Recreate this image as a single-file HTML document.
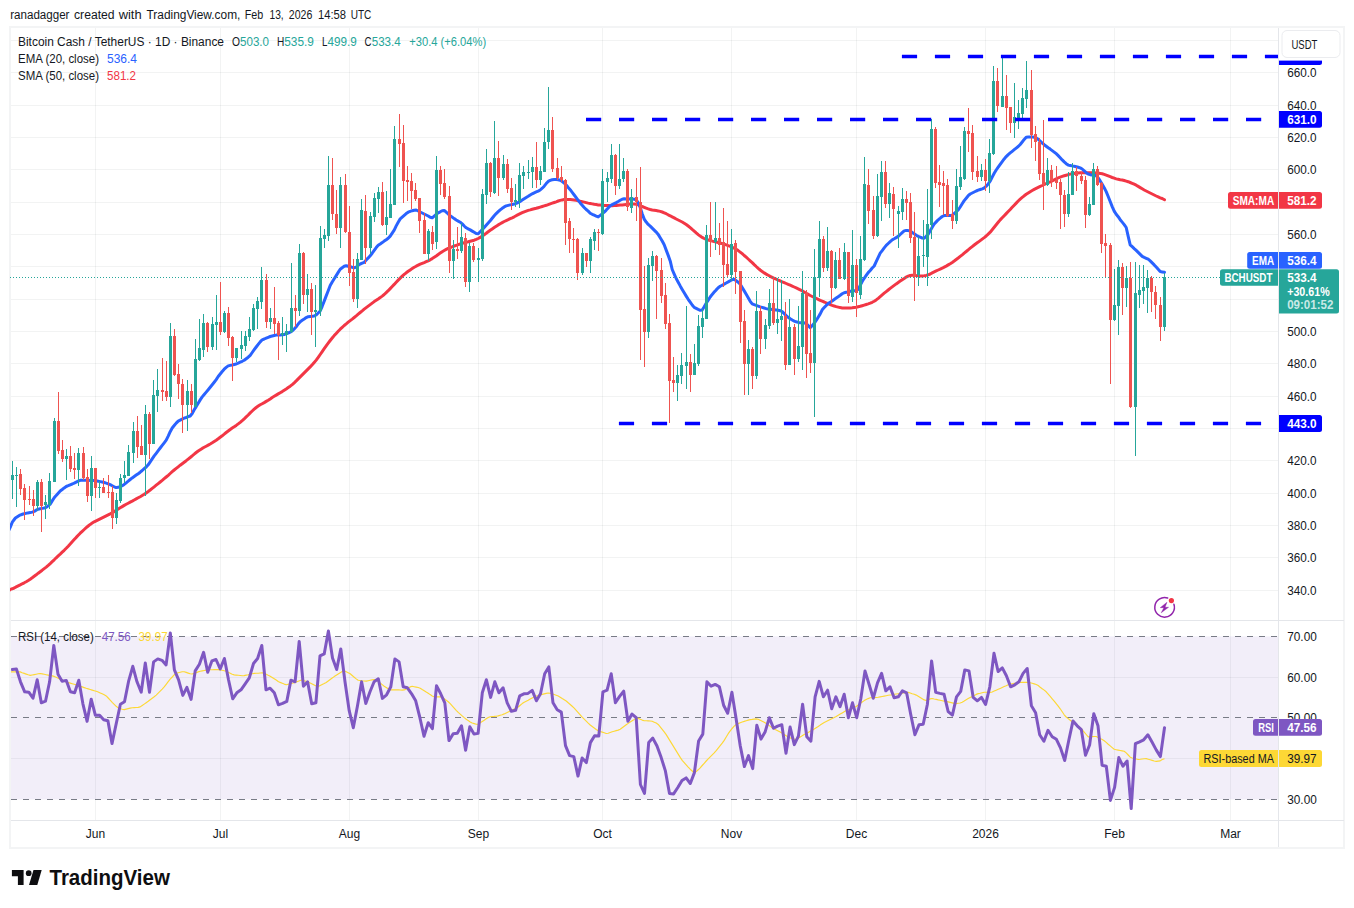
<!DOCTYPE html>
<html lang="en"><head><meta charset="utf-8"><title>BCHUSDT chart</title>
<style>html,body{margin:0;padding:0;background:#fff}body{width:1354px;height:908px;overflow:hidden}svg{display:block}text{font-family:"Liberation Sans", sans-serif;}</style></head><body>
<svg width="1354" height="908" viewBox="0 0 1354 908">
<rect width="1354" height="908" fill="#fff"/>
<text y="18.8" font-size="12.5" fill="#131722"><tspan x="10.2" textLength="59.3" lengthAdjust="spacingAndGlyphs">ranadagger</tspan> <tspan x="74.0" textLength="40.6" lengthAdjust="spacingAndGlyphs">created</tspan> <tspan x="118.7" textLength="22.9" lengthAdjust="spacingAndGlyphs">with</tspan> <tspan x="146.5" textLength="93.9" lengthAdjust="spacingAndGlyphs">TradingView.com,</tspan> <tspan x="244.8" textLength="18.5" lengthAdjust="spacingAndGlyphs">Feb</tspan> <tspan x="269.5" textLength="14.2" lengthAdjust="spacingAndGlyphs">13,</tspan> <tspan x="288.8" textLength="23.5" lengthAdjust="spacingAndGlyphs">2026</tspan> <tspan x="317.9" textLength="28.1" lengthAdjust="spacingAndGlyphs">14:58</tspan> <tspan x="350.7" textLength="20.7" lengthAdjust="spacingAndGlyphs">UTC</tspan></text>
<rect x="10" y="27" width="1334" height="821" fill="#fff" stroke="#f3f4f5" stroke-width="2"/>
<defs><clipPath id="cm"><rect x="10" y="28" width="1268" height="592"/></clipPath><clipPath id="cr"><rect x="11" y="621" width="1267" height="199"/></clipPath></defs>
<path d="M95.5 28V820M220.5 28V820M349.5 28V820M478.5 28V820M602.5 28V820M731.5 28V820M856.5 28V820M985.5 28V820M1114.5 28V820M1230.5 28V820" stroke="rgba(42,46,57,0.06)" stroke-width="1" fill="none"/>
<path d="M11 590.5H1278M11 557.5H1278M11 525.5H1278M11 493.5H1278M11 460.5H1278M11 428.5H1278M11 396.5H1278M11 363.5H1278M11 331.5H1278M11 299.5H1278M11 266.5H1278M11 234.5H1278M11 202.5H1278M11 169.5H1278M11 137.5H1278M11 105.5H1278M11 72.5H1278M11 40.5H1278M11 677.5H1278M11 758.5H1278" stroke="rgba(42,46,57,0.06)" stroke-width="1" fill="none"/>
<rect x="11" y="636.4" width="1267" height="163.0" fill="#7e57c2" fill-opacity="0.1"/>
<path d="M11 636.5H1278" stroke="#787b86" stroke-width="1" stroke-dasharray="6 6" fill="none"/>
<path d="M11 717.5H1278" stroke="#787b86" stroke-width="1" stroke-dasharray="6 6" fill="none"/>
<path d="M11 799.5H1278" stroke="#787b86" stroke-width="1" stroke-dasharray="6 6" fill="none"/>
<path d="M11 620.5H1344M11 820.5H1344M1278.5 28V847" stroke="#e4e6ea" stroke-width="1" fill="none"/>
<g clip-path="url(#cm)">
<path d="M8.0 591.6L10.2 589.4L12.2 588.8L14.2 588.0L16.2 586.9L18.2 585.9L20.2 584.9L22.2 583.8L24.2 582.8L26.2 581.7L28.2 580.5L30.2 579.2L32.2 577.8L34.2 576.3L36.2 574.8L38.2 573.2L40.2 571.7L42.2 570.2L44.2 568.6L46.2 567.1L48.2 565.4L50.2 563.6L52.2 561.7L54.2 559.8L56.2 557.8L58.2 555.9L60.2 554.1L62.2 552.2L64.2 550.3L66.2 548.3L68.2 546.2L70.2 544.0L72.2 541.8L74.2 539.6L76.2 537.4L78.2 535.3L80.2 533.2L82.2 531.3L84.2 529.5L86.2 527.7L88.2 526.0L90.2 524.4L92.2 523.1L94.2 521.8L96.2 520.8L98.2 519.8L100.2 518.8L102.2 517.8L104.2 516.8L106.2 515.8L108.2 514.8L110.2 513.8L112.2 512.7L114.2 511.6L116.2 510.4L118.2 509.1L120.2 507.8L122.2 506.6L124.2 505.4L126.2 504.3L128.2 503.2L130.2 502.1L132.2 501.1L134.2 500.0L136.2 498.9L138.2 497.8L140.2 496.7L142.2 495.5L144.2 494.3L146.2 492.9L148.2 491.5L150.2 490.0L152.2 488.4L154.2 486.8L156.2 485.2L158.2 483.6L160.2 482.0L162.2 480.4L164.2 478.7L166.2 477.0L168.2 475.3L170.2 473.5L172.2 471.7L174.2 470.0L176.2 468.4L178.2 466.8L180.2 465.2L182.2 463.7L184.2 462.2L186.2 460.7L188.2 459.1L190.2 457.5L192.2 455.8L194.2 454.2L196.2 452.5L198.2 451.0L200.2 449.7L202.2 448.4L204.2 447.3L206.2 446.2L208.2 445.1L210.2 444.0L212.2 442.8L214.2 441.5L216.2 440.2L218.2 438.8L220.2 437.3L222.2 435.8L224.2 434.2L226.2 432.5L228.2 431.0L230.2 429.5L232.2 428.1L234.2 426.8L236.2 425.4L238.2 423.9L240.2 422.3L242.2 420.6L244.2 418.8L246.2 416.9L248.2 415.0L250.2 412.9L252.2 411.0L254.2 409.2L256.2 407.5L258.2 406.1L260.2 404.8L262.2 403.7L264.2 402.6L266.2 401.4L268.2 400.2L270.2 398.9L272.2 397.5L274.2 396.3L276.2 395.1L278.2 393.9L280.2 392.7L282.2 391.6L284.2 390.3L286.2 389.0L288.2 387.6L290.2 386.2L292.2 384.6L294.2 382.8L296.2 380.9L298.2 378.9L300.2 376.9L302.2 374.9L304.2 372.9L306.2 370.9L308.2 368.9L310.2 366.9L312.2 364.8L314.2 362.5L316.2 360.1L318.2 357.4L320.2 354.5L322.2 351.6L324.2 348.7L326.2 345.9L328.2 343.2L330.2 340.5L332.2 338.0L334.2 335.6L336.2 333.4L338.2 331.2L340.2 329.2L342.2 327.3L344.2 325.5L346.2 323.9L348.2 322.2L350.2 320.6L352.2 319.1L354.2 317.5L356.2 315.9L358.2 314.2L360.2 312.5L362.2 310.9L364.2 309.2L366.2 307.6L368.2 306.1L370.2 304.6L372.2 303.1L374.2 301.6L376.2 300.3L378.2 299.0L380.2 297.6L382.2 296.1L384.2 294.5L386.2 292.6L388.2 290.7L390.2 288.6L392.2 286.5L394.2 284.4L396.2 282.2L398.2 280.1L400.2 278.1L402.2 276.2L404.2 274.4L406.2 272.8L408.2 271.3L410.2 269.9L412.2 268.6L414.2 267.3L416.2 266.2L418.2 265.2L420.2 264.2L422.2 263.4L424.2 262.6L426.2 261.7L428.2 260.8L430.2 259.8L432.2 258.6L434.2 257.3L436.2 256.0L438.2 254.5L440.2 253.1L442.2 251.7L444.2 250.5L446.2 249.4L448.2 248.4L450.2 247.6L452.2 246.8L454.2 246.0L456.2 245.3L458.2 244.6L460.2 244.0L462.2 243.4L464.2 242.8L466.2 242.3L468.2 241.8L470.2 241.2L472.2 240.7L474.2 240.2L476.2 239.4L478.2 238.5L480.2 237.4L482.2 236.1L484.2 234.7L486.2 233.3L488.2 231.8L490.2 230.3L492.2 228.9L494.2 227.5L496.2 226.2L498.2 224.9L500.2 223.7L502.2 222.6L504.2 221.5L506.2 220.6L508.2 219.7L510.2 218.7L512.2 217.8L514.2 216.8L516.2 215.7L518.2 214.7L520.2 213.7L522.2 212.7L524.2 211.8L526.2 211.1L528.2 210.4L530.2 209.9L532.2 209.3L534.2 208.8L536.2 208.3L538.2 207.7L540.2 207.1L542.2 206.5L544.2 205.9L546.2 205.3L548.2 204.6L550.2 203.9L552.2 203.2L554.2 202.5L556.2 201.8L558.2 201.0L560.2 200.4L562.2 199.9L564.2 199.6L566.2 199.5L568.2 199.4L570.2 199.5L572.2 199.7L574.2 200.0L576.2 200.4L578.2 200.8L580.2 201.3L582.2 201.7L584.2 202.1L586.2 202.6L588.2 203.1L590.2 203.5L592.2 203.9L594.2 204.3L596.2 204.6L598.2 204.9L600.2 205.1L602.2 205.3L604.2 205.4L606.2 205.6L608.2 205.6L610.2 205.7L612.2 205.7L614.2 205.6L616.2 205.5L618.2 205.3L620.2 205.1L622.2 204.9L624.2 204.7L626.2 204.5L628.2 204.3L630.2 204.1L632.2 203.9L634.2 204.0L636.2 204.3L638.2 204.8L640.2 205.6L642.2 206.5L644.2 207.3L646.2 208.2L648.2 208.9L650.2 209.5L652.2 210.0L654.2 210.3L656.2 210.6L658.2 210.9L660.2 211.4L662.2 212.0L664.2 212.8L666.2 213.7L668.2 214.8L670.2 215.8L672.2 216.9L674.2 217.9L676.2 219.0L678.2 220.0L680.2 221.0L682.2 222.0L684.2 223.2L686.2 224.5L688.2 226.0L690.2 227.6L692.2 229.4L694.2 231.1L696.2 232.9L698.2 234.6L700.2 236.1L702.2 237.4L704.2 238.5L706.2 239.4L708.2 240.0L710.2 240.6L712.2 241.1L714.2 241.6L716.2 242.0L718.2 242.5L720.2 243.0L722.2 243.6L724.2 244.2L726.2 244.9L728.2 245.7L730.2 246.4L732.2 247.3L734.2 248.2L736.2 249.3L738.2 250.6L740.2 252.1L742.2 253.7L744.2 255.5L746.2 257.2L748.2 259.0L750.2 260.8L752.2 262.6L754.2 264.6L756.2 266.5L758.2 268.3L760.2 270.0L762.2 271.6L764.2 272.9L766.2 274.1L768.2 275.2L770.2 276.3L772.2 277.3L774.2 278.3L776.2 279.2L778.2 280.1L780.2 280.9L782.2 281.8L784.2 282.6L786.2 283.5L788.2 284.4L790.2 285.2L792.2 286.1L794.2 287.0L796.2 287.9L798.2 288.8L800.2 289.8L802.2 290.9L804.2 292.0L806.2 293.2L808.2 294.4L810.2 295.5L812.2 296.5L814.2 297.5L816.2 298.4L818.2 299.3L820.2 300.3L822.2 301.2L824.2 302.0L826.2 302.9L828.2 303.7L830.2 304.5L832.2 305.3L834.2 306.0L836.2 306.6L838.2 307.1L840.2 307.6L842.2 307.9L844.2 308.1L846.2 308.1L848.2 308.1L850.2 308.0L852.2 307.8L854.2 307.5L856.2 307.2L858.2 306.7L860.2 306.3L862.2 305.7L864.2 305.1L866.2 304.5L868.2 303.9L870.2 303.2L872.2 302.3L874.2 301.2L876.2 299.9L878.2 298.3L880.2 296.6L882.2 294.9L884.2 293.2L886.2 291.6L888.2 290.0L890.2 288.4L892.2 286.9L894.2 285.4L896.2 283.9L898.2 282.5L900.2 281.1L902.2 279.7L904.2 278.4L906.2 277.1L908.2 276.1L910.2 275.5L912.2 275.3L914.2 275.3L916.2 275.6L918.2 275.8L920.2 275.9L922.2 276.0L924.2 275.8L926.2 275.4L928.2 274.8L930.2 274.0L932.2 272.9L934.2 271.9L936.2 270.9L938.2 270.0L940.2 269.1L942.2 268.2L944.2 267.1L946.2 266.1L948.2 264.9L950.2 263.7L952.2 262.4L954.2 261.0L956.2 259.5L958.2 258.0L960.2 256.4L962.2 254.8L964.2 253.1L966.2 251.5L968.2 249.8L970.2 248.2L972.2 246.6L974.2 245.0L976.2 243.5L978.2 242.1L980.2 240.6L982.2 239.1L984.2 237.6L986.2 236.0L988.2 234.1L990.2 232.2L992.2 229.8L994.2 227.3L996.2 224.8L998.2 222.3L1000.2 219.9L1002.2 217.8L1004.2 215.7L1006.2 213.6L1008.2 211.5L1010.2 209.5L1012.2 207.3L1014.2 205.2L1016.2 203.1L1018.2 201.0L1020.2 199.1L1022.2 197.4L1024.2 195.8L1026.2 194.3L1028.2 193.0L1030.2 191.7L1032.2 190.5L1034.2 189.4L1036.2 188.4L1038.2 187.4L1040.2 186.4L1042.2 185.5L1044.2 184.5L1046.2 183.6L1048.2 182.7L1050.2 181.8L1052.2 180.8L1054.2 179.8L1056.2 178.8L1058.2 177.9L1060.2 177.1L1062.2 176.4L1064.2 175.8L1066.2 175.2L1068.2 174.6L1070.2 174.1L1072.2 173.7L1074.2 173.4L1076.2 173.1L1078.2 172.9L1080.2 172.8L1082.2 172.7L1084.2 172.7L1086.2 172.7L1088.2 172.7L1090.2 172.7L1092.2 172.8L1094.2 172.8L1096.2 172.9L1098.2 173.1L1100.2 173.4L1102.2 173.8L1104.2 174.4L1106.2 175.1L1108.2 175.9L1110.2 176.7L1112.2 177.5L1114.2 178.2L1116.2 178.9L1118.2 179.3L1120.2 179.7L1122.2 180.0L1124.2 180.5L1126.2 181.1L1128.2 181.7L1130.2 182.5L1132.2 183.3L1134.2 184.2L1136.2 185.2L1138.2 186.4L1140.2 187.6L1142.2 188.8L1144.2 190.0L1146.2 191.0L1148.2 192.0L1150.2 193.0L1152.2 194.0L1154.2 195.0L1156.2 196.0L1158.2 196.9L1160.2 197.8L1162.2 198.5L1164.5 199.8" stroke="#f23645" stroke-width="3" fill="none" stroke-linejoin="round" stroke-linecap="round"/>
<path d="M8.0 532.0L10.3 527.1L12.3 522.2L15.4 518.0L19.3 515.4L23.1 514.0L27.8 512.9L30.2 512.6L32.2 512.1L34.2 511.4L36.2 510.2L38.2 509.2L40.2 508.8L42.2 508.4L44.2 508.0L46.2 507.4L48.2 505.9L50.2 504.1L52.2 500.9L54.2 497.8L56.2 495.4L58.2 493.2L60.2 491.0L62.2 489.5L64.2 487.9L66.2 486.5L68.2 485.7L70.2 484.8L72.2 484.0L74.2 483.1L76.2 482.1L78.2 481.1L80.2 480.3L82.2 480.3L84.2 480.3L86.2 480.3L88.2 480.3L90.2 480.4L92.2 480.5L94.2 480.6L96.2 480.8L98.2 481.2L100.2 481.6L102.2 482.0L104.2 482.5L106.2 483.1L108.2 483.8L110.2 484.6L112.2 485.7L114.2 486.8L116.2 487.6L118.2 487.2L120.2 486.8L122.2 485.7L124.2 484.4L126.2 482.8L128.2 481.2L130.2 479.5L132.2 477.9L134.2 476.5L136.2 475.1L138.2 473.7L140.2 472.2L142.2 470.5L144.2 468.7L146.2 467.0L148.2 464.8L150.2 461.8L152.2 458.8L154.2 455.9L156.2 453.3L158.2 450.6L160.2 448.0L162.2 445.4L164.2 442.8L166.2 440.2L168.2 436.1L170.2 431.7L172.2 428.0L174.2 425.5L176.2 423.1L178.2 421.1L180.2 420.1L182.2 419.1L184.2 418.2L186.2 417.5L188.2 416.7L190.2 416.0L192.2 413.5L194.2 409.8L196.2 406.6L198.2 403.2L200.2 399.9L202.2 396.9L204.2 394.5L206.2 392.1L208.2 389.7L210.2 387.2L212.2 384.7L214.2 382.2L216.2 379.6L218.2 376.5L220.2 374.0L222.2 371.5L224.2 369.2L226.2 367.4L228.2 365.9L230.2 365.4L232.2 365.0L234.2 364.5L236.2 364.0L238.2 363.1L240.2 362.2L242.2 361.3L244.2 360.2L246.2 358.7L248.2 357.2L250.2 355.3L252.2 352.5L254.2 349.7L256.2 347.0L258.2 344.4L260.2 341.9L262.2 339.8L264.2 339.0L266.2 338.1L268.2 337.3L270.2 336.5L272.2 336.0L274.2 335.5L276.2 335.1L278.2 335.0L280.2 334.9L282.2 334.8L284.2 334.5L286.2 333.7L288.2 333.0L290.2 332.2L292.2 331.0L294.2 329.0L296.2 326.8L298.2 324.0L300.2 321.7L302.2 320.3L304.2 319.0L306.2 317.6L308.2 316.7L310.2 316.4L312.2 316.2L314.2 315.9L316.2 315.0L318.2 313.0L320.2 311.0L322.2 306.3L324.2 301.1L326.2 295.9L328.2 290.7L330.2 285.5L332.2 282.0L334.2 278.8L336.2 275.6L338.2 272.4L340.2 269.2L342.2 267.7L344.2 266.3L346.2 265.7L348.2 266.3L350.2 266.8L352.2 267.3L354.2 267.7L356.2 267.1L358.2 265.3L360.2 264.0L362.2 263.2L364.2 262.4L366.2 260.0L368.2 257.9L370.2 255.7L372.2 253.2L374.2 250.4L376.2 247.6L378.2 245.3L380.2 244.0L382.2 242.6L384.2 241.1L386.2 239.7L388.2 238.2L390.2 236.1L392.2 233.1L394.2 230.1L396.2 225.9L398.2 222.2L400.2 218.9L402.2 217.1L404.2 215.3L406.2 213.6L408.2 212.2L410.2 211.4L412.2 210.7L414.2 210.2L416.2 210.0L418.2 211.0L420.2 212.0L422.2 213.0L424.2 214.0L426.2 215.0L428.2 216.0L430.2 217.3L432.2 217.8L434.2 216.1L436.2 214.4L438.2 212.8L440.2 211.8L442.2 210.7L444.2 210.4L446.2 212.2L448.2 214.0L450.2 215.6L452.2 217.1L454.2 218.6L456.2 220.0L458.2 221.1L460.2 222.2L462.2 223.8L464.2 226.0L466.2 227.8L468.2 228.9L470.2 229.9L472.2 231.1L474.2 232.3L476.2 233.5L478.2 233.8L480.2 231.7L482.2 229.6L484.2 227.5L486.2 225.2L488.2 223.0L490.2 220.7L492.2 218.2L494.2 215.8L496.2 213.6L498.2 211.7L500.2 209.9L502.2 208.3L504.2 206.9L506.2 205.9L508.2 205.4L510.2 204.9L512.2 204.5L514.2 204.0L516.2 203.3L518.2 202.5L520.2 201.4L522.2 200.1L524.2 198.8L526.2 197.5L528.2 196.3L530.2 195.0L532.2 193.8L534.2 192.8L536.2 191.9L538.2 191.1L540.2 190.0L542.2 188.2L544.2 186.2L546.2 183.6L548.2 181.4L550.2 180.4L552.2 179.8L554.2 179.5L556.2 179.5L558.2 179.7L560.2 180.3L562.2 181.5L564.2 183.1L566.2 185.0L568.2 187.5L570.2 189.7L572.2 192.3L574.2 195.0L576.2 197.7L578.2 200.3L580.2 202.9L582.2 205.2L584.2 207.5L586.2 209.5L588.2 211.1L590.2 213.2L592.2 214.3L594.2 215.2L596.2 216.1L598.2 216.9L600.2 215.4L602.2 213.8L604.2 212.2L606.2 210.1L608.2 207.9L610.2 205.8L612.2 204.6L614.2 203.6L616.2 202.6L618.2 201.5L620.2 200.3L622.2 199.2L624.2 198.7L626.2 198.9L628.2 199.0L630.2 199.1L632.2 199.1L634.2 199.2L636.2 199.8L638.2 202.6L640.2 207.5L642.2 213.8L644.2 219.1L646.2 222.1L648.2 224.4L650.2 226.1L652.2 228.1L654.2 230.1L656.2 232.1L658.2 234.4L660.2 237.7L662.2 241.0L664.2 244.8L666.2 250.1L668.2 255.4L670.2 260.9L672.2 269.5L674.2 274.1L676.2 278.5L678.2 282.2L680.2 285.9L682.2 289.4L684.2 292.8L686.2 296.1L688.2 299.3L690.2 302.2L692.2 305.0L694.2 307.4L696.2 308.4L698.2 309.4L700.2 310.3L702.2 310.0L704.2 306.8L706.2 303.2L708.2 300.1L710.2 297.0L712.2 294.4L714.2 292.1L716.2 289.9L718.2 287.8L720.2 286.3L722.2 285.2L724.2 284.1L726.2 283.0L728.2 281.9L730.2 280.7L732.2 279.6L734.2 279.2L736.2 280.7L738.2 282.2L740.2 284.2L742.2 287.6L744.2 290.9L746.2 294.3L748.2 297.8L750.2 301.3L752.2 303.9L754.2 304.7L756.2 305.4L758.2 306.2L760.2 306.9L762.2 307.4L764.2 308.0L766.2 308.6L768.2 309.0L770.2 309.2L772.2 309.5L774.2 309.7L776.2 310.0L778.2 310.3L780.2 310.7L782.2 311.6L784.2 313.6L786.2 315.6L788.2 317.3L790.2 318.7L792.2 320.0L794.2 321.1L796.2 321.8L798.2 322.4L800.2 322.8L802.2 322.8L804.2 322.8L806.2 323.6L808.2 325.6L810.2 327.6L812.2 325.7L814.2 323.3L816.2 320.5L818.2 317.2L820.2 313.9L822.2 309.8L824.2 307.6L826.2 305.4L828.2 303.6L830.2 302.2L832.2 300.9L834.2 299.5L836.2 298.1L838.2 296.7L840.2 295.3L842.2 293.8L844.2 292.7L846.2 292.3L848.2 292.0L850.2 291.3L852.2 291.0L854.2 290.7L856.2 290.4L858.2 289.5L860.2 285.3L862.2 281.5L864.2 278.3L866.2 275.4L868.2 272.6L870.2 270.5L872.2 268.0L874.2 266.0L876.2 261.7L878.2 257.3L880.2 253.2L882.2 250.6L884.2 247.9L886.2 245.4L888.2 243.5L890.2 241.6L892.2 239.9L894.2 238.8L896.2 237.6L898.2 236.4L900.2 234.5L902.2 232.7L904.2 230.9L906.2 230.4L908.2 230.6L910.2 231.0L912.2 232.4L914.2 233.8L916.2 235.2L918.2 236.4L920.2 237.2L922.2 238.0L924.2 238.3L926.2 236.3L928.2 234.3L930.2 230.8L932.2 227.2L934.2 224.0L936.2 221.9L938.2 219.8L940.2 218.2L942.2 216.5L944.2 215.6L946.2 215.6L948.2 215.5L950.2 215.5L952.2 215.1L954.2 213.5L956.2 211.8L958.2 210.0L960.2 207.0L962.2 203.7L964.2 200.6L966.2 198.2L968.2 195.7L970.2 194.0L972.2 193.0L974.2 192.0L976.2 191.0L978.2 190.2L980.2 189.5L982.2 188.8L984.2 188.0L986.2 186.2L988.2 183.9L990.2 181.2L992.2 177.2L994.2 173.3L996.2 170.0L998.2 167.1L1000.2 164.3L1002.2 161.6L1004.2 158.9L1006.2 156.6L1008.2 154.6L1010.2 152.9L1012.2 151.3L1014.2 149.7L1016.2 148.1L1018.2 146.5L1020.2 144.5L1022.2 142.0L1024.2 139.4L1026.2 137.2L1028.2 137.0L1030.2 136.9L1032.2 136.9L1034.2 137.3L1036.2 137.9L1038.2 139.3L1040.2 141.1L1042.2 143.0L1044.2 144.7L1046.2 146.2L1048.2 147.7L1050.2 149.1L1052.2 150.6L1054.2 152.1L1056.2 153.7L1058.2 155.6L1060.2 157.7L1062.2 159.9L1064.2 161.9L1066.2 163.7L1068.2 165.1L1070.2 165.5L1072.2 165.9L1074.2 166.2L1076.2 166.7L1078.2 167.3L1080.2 167.9L1082.2 169.0L1084.2 170.8L1086.2 172.7L1088.2 174.0L1090.2 174.7L1092.2 175.1L1094.2 175.2L1096.2 175.7L1098.2 177.9L1100.2 180.9L1102.2 184.3L1104.2 187.7L1106.2 191.6L1108.2 196.5L1110.2 201.5L1112.2 206.6L1114.2 211.1L1116.2 214.3L1118.2 216.7L1120.2 219.7L1122.2 222.1L1124.2 224.6L1126.2 227.5L1128.2 236.3L1130.2 244.8L1132.2 246.7L1134.2 248.6L1136.2 250.4L1138.2 252.4L1140.2 254.4L1142.2 256.4L1144.2 257.4L1146.2 258.3L1148.2 259.2L1150.2 260.9L1152.2 262.9L1154.2 264.9L1156.2 267.1L1158.2 269.3L1160.2 271.6L1162.2 271.9L1164.5 272.3" stroke="#2962ff" stroke-width="3" fill="none" stroke-linejoin="round" stroke-linecap="round"/>
</g>
<g clip-path="url(#cm)" shape-rendering="crispEdges">
<path d="M12 461h1v38h-1zM11 475h3v5h-3zM16 467h1v40h-1zM15 475h3v1h-3zM37 480h1v31h-1zM36 482h3v24h-3zM45 495h1v24h-1zM44 502h3v3h-3zM49 473h1v36h-1zM48 481h3v24h-3zM54 418h1v64h-1zM53 421h3v61h-3zM66 449h1v31h-1zM65 456h3v3h-3zM78 448h1v38h-1zM77 453h3v17h-3zM91 456h1v55h-1zM90 468h3v28h-3zM99 481h1v17h-1zM98 487h3v1h-3zM116 493h1v31h-1zM115 500h3v18h-3zM120 474h1v29h-1zM119 478h3v23h-3zM124 461h1v22h-1zM123 475h3v3h-3zM128 445h1v31h-1zM127 452h3v24h-3zM133 422h1v41h-1zM132 431h3v22h-3zM145 405h1v91h-1zM144 414h3v41h-3zM153 380h1v64h-1zM152 395h3v49h-3zM157 369h1v43h-1zM156 390h3v6h-3zM170 323h1v84h-1zM169 336h3v61h-3zM187 380h1v51h-1zM186 391h3v14h-3zM195 339h1v68h-1zM194 359h3v48h-3zM199 319h1v42h-1zM198 348h3v12h-3zM203 314h1v43h-1zM202 323h3v27h-3zM212 317h1v33h-1zM211 324h3v23h-3zM216 295h1v55h-1zM215 322h3v3h-3zM224 311h1v22h-1zM223 313h3v19h-3zM236 348h1v14h-1zM235 348h3v10h-3zM241 331h1v28h-1zM240 345h3v4h-3zM245 331h1v20h-1zM244 336h3v10h-3zM249 317h1v24h-1zM248 329h3v8h-3zM253 304h1v27h-1zM252 308h3v22h-3zM257 297h1v32h-1zM256 301h3v8h-3zM261 267h1v42h-1zM260 280h3v22h-3zM270 308h1v21h-1zM269 318h3v4h-3zM282 317h1v28h-1zM281 333h3v2h-3zM286 324h1v28h-1zM285 331h3v4h-3zM291 263h1v70h-1zM290 308h3v24h-3zM299 244h1v72h-1zM298 253h3v58h-3zM307 274h1v38h-1zM306 289h3v6h-3zM315 285h1v62h-1zM314 310h3v2h-3zM320 226h1v90h-1zM319 238h3v73h-3zM324 229h1v19h-1zM323 235h3v4h-3zM328 156h1v85h-1zM327 185h3v51h-3zM340 177h1v71h-1zM339 185h3v43h-3zM357 253h1v55h-1zM356 259h3v40h-3zM361 199h1v61h-1zM360 210h3v50h-3zM370 212h1v42h-1zM369 216h3v32h-3zM374 193h1v29h-1zM373 198h3v19h-3zM378 187h1v26h-1zM377 192h3v7h-3zM386 191h1v44h-1zM385 217h3v8h-3zM390 169h1v49h-1zM389 204h3v14h-3zM394 126h1v79h-1zM393 139h3v66h-3zM428 229h1v32h-1zM427 231h3v23h-3zM436 156h1v93h-1zM435 170h3v72h-3zM453 240h1v39h-1zM452 249h3v12h-3zM461 223h1v30h-1zM460 237h3v14h-3zM469 243h1v49h-1zM468 246h3v36h-3zM478 248h1v34h-1zM477 258h3v2h-3zM482 189h1v72h-1zM481 194h3v65h-3zM486 149h1v55h-1zM485 163h3v32h-3zM494 121h1v73h-1zM493 158h3v35h-3zM503 155h1v25h-1zM502 164h3v14h-3zM515 184h1v23h-1zM514 200h3v2h-3zM519 163h1v45h-1zM518 175h3v26h-3zM523 166h1v23h-1zM522 172h3v4h-3zM528 160h1v19h-1zM527 172h3v1h-3zM532 157h1v31h-1zM531 167h3v5h-3zM540 166h1v19h-1zM539 171h3v9h-3zM544 128h1v44h-1zM543 142h3v30h-3zM548 87h1v62h-1zM547 130h3v12h-3zM582 248h1v27h-1zM581 253h3v20h-3zM590 237h1v36h-1zM589 239h3v22h-3zM594 229h1v21h-1zM593 232h3v9h-3zM602 169h1v66h-1zM601 181h3v53h-3zM607 172h1v30h-1zM606 178h3v4h-3zM611 144h1v39h-1zM610 155h3v24h-3zM619 144h1v45h-1zM618 179h3v7h-3zM623 158h1v24h-1zM622 171h3v8h-3zM631 189h1v24h-1zM630 197h3v11h-3zM648 258h1v80h-1zM647 265h3v67h-3zM652 251h1v30h-1zM651 256h3v10h-3zM677 365h1v36h-1zM676 375h3v8h-3zM681 353h1v31h-1zM680 365h3v11h-3zM686 306h1v83h-1zM685 362h3v4h-3zM694 344h1v31h-1zM693 363h3v12h-3zM698 315h1v51h-1zM697 326h3v38h-3zM702 309h1v29h-1zM701 318h3v9h-3zM706 225h1v94h-1zM705 235h3v84h-3zM715 202h1v48h-1zM714 238h3v4h-3zM731 229h1v52h-1zM730 244h3v31h-3zM748 340h1v55h-1zM747 349h3v15h-3zM756 291h1v88h-1zM755 311h3v65h-3zM765 319h1v30h-1zM764 325h3v14h-3zM769 289h1v40h-1zM768 303h3v23h-3zM777 278h1v56h-1zM776 319h3v4h-3zM781 280h1v61h-1zM780 316h3v4h-3zM789 299h1v66h-1zM788 327h3v38h-3zM798 306h1v56h-1zM797 346h3v13h-3zM802 271h1v99h-1zM801 293h3v54h-3zM814 249h1v168h-1zM813 277h3v86h-3zM819 221h1v76h-1zM818 239h3v39h-3zM827 227h1v44h-1zM826 251h3v17h-3zM835 252h1v37h-1zM834 260h3v28h-3zM844 243h1v37h-1zM843 252h3v27h-3zM852 230h1v72h-1zM851 265h3v32h-3zM860 236h1v63h-1zM859 259h3v36h-3zM864 157h1v104h-1zM863 184h3v76h-3zM877 174h1v63h-1zM876 196h3v40h-3zM881 161h1v60h-1zM880 172h3v25h-3zM889 183h1v35h-1zM888 193h3v11h-3zM898 206h1v42h-1zM897 211h3v3h-3zM902 188h1v32h-1zM901 199h3v13h-3zM918 237h1v49h-1zM917 256h3v19h-3zM923 220h1v47h-1zM922 255h3v1h-3zM927 189h1v97h-1zM926 224h3v33h-3zM931 119h1v120h-1zM930 129h3v96h-3zM956 169h1v55h-1zM955 186h3v35h-3zM960 146h1v44h-1zM959 177h3v10h-3zM964 127h1v53h-1zM963 131h3v48h-3zM981 164h1v17h-1zM980 170h3v7h-3zM989 139h1v54h-1zM988 153h3v28h-3zM993 66h1v89h-1zM992 81h3v73h-3zM1002 57h1v50h-1zM1001 96h3v11h-3zM1014 83h1v55h-1zM1013 117h3v6h-3zM1018 100h1v29h-1zM1017 113h3v5h-3zM1022 88h1v30h-1zM1021 98h3v16h-3zM1026 61h1v47h-1zM1025 90h3v9h-3zM1047 158h1v28h-1zM1046 170h3v15h-3zM1068 172h1v45h-1zM1067 194h3v20h-3zM1072 163h1v32h-1zM1071 171h3v24h-3zM1089 197h1v19h-1zM1088 204h3v11h-3zM1093 163h1v42h-1zM1092 169h3v36h-3zM1114 269h1v52h-1zM1113 305h3v15h-3zM1118 260h1v75h-1zM1117 267h3v39h-3zM1126 266h1v41h-1zM1125 278h3v10h-3zM1135 262h1v194h-1zM1134 293h3v114h-3zM1139 265h1v43h-1zM1138 290h3v5h-3zM1143 265h1v39h-1zM1142 287h3v4h-3zM1147 270h1v43h-1zM1146 278h3v10h-3zM1164 273h1v58h-1zM1163 277h3v50h-3z" fill="#26a69a"/>
<path d="M20 469h1v26h-1zM19 474h3v15h-3zM24 484h1v36h-1zM23 488h3v12h-3zM29 486h1v19h-1zM28 499h3v1h-3zM33 490h1v26h-1zM32 499h3v7h-3zM41 479h1v53h-1zM40 482h3v24h-3zM58 392h1v62h-1zM57 421h3v30h-3zM62 440h1v22h-1zM61 450h3v9h-3zM70 446h1v26h-1zM69 456h3v13h-3zM74 453h1v26h-1zM73 468h3v2h-3zM83 447h1v33h-1zM82 453h3v25h-3zM87 469h1v33h-1zM86 477h3v19h-3zM95 468h1v30h-1zM94 468h3v20h-3zM103 478h1v15h-1zM102 487h3v6h-3zM108 475h1v23h-1zM107 492h3v1h-3zM112 486h1v43h-1zM111 492h3v26h-3zM137 416h1v42h-1zM136 431h3v16h-3zM141 425h1v30h-1zM140 446h3v9h-3zM149 412h1v47h-1zM148 414h3v30h-3zM162 358h1v43h-1zM161 390h3v2h-3zM166 361h1v40h-1zM165 391h3v6h-3zM174 329h1v47h-1zM173 336h3v39h-3zM178 364h1v35h-1zM177 374h3v10h-3zM182 379h1v54h-1zM181 384h3v21h-3zM191 384h1v29h-1zM190 391h3v14h-3zM207 322h1v30h-1zM206 323h3v24h-3zM220 282h1v53h-1zM219 322h3v10h-3zM228 307h1v39h-1zM227 313h3v25h-3zM232 336h1v45h-1zM231 337h3v21h-3zM266 274h1v54h-1zM265 280h3v42h-3zM274 287h1v47h-1zM273 318h3v6h-3zM278 321h1v39h-1zM277 323h3v12h-3zM295 295h1v32h-1zM294 308h3v3h-3zM303 252h1v52h-1zM302 253h3v42h-3zM311 283h1v52h-1zM310 289h3v23h-3zM332 158h1v62h-1zM331 185h3v29h-3zM336 190h1v44h-1zM335 214h3v14h-3zM345 174h1v59h-1zM344 185h3v47h-3zM349 206h1v80h-1zM348 232h3v41h-3zM353 259h1v43h-1zM352 272h3v27h-3zM365 195h1v69h-1zM364 211h3v37h-3zM382 182h1v44h-1zM381 192h3v33h-3zM399 114h1v53h-1zM398 139h3v5h-3zM403 125h1v78h-1zM402 143h3v38h-3zM407 166h1v35h-1zM406 180h3v2h-3zM411 173h1v36h-1zM410 181h3v10h-3zM415 183h1v18h-1zM414 190h3v9h-3zM419 198h1v35h-1zM418 198h3v23h-3zM424 213h1v41h-1zM423 220h3v34h-3zM432 226h1v24h-1zM431 232h3v12h-3zM440 166h1v29h-1zM439 170h3v14h-3zM444 169h1v30h-1zM443 183h3v14h-3zM449 186h1v87h-1zM448 196h3v65h-3zM457 227h1v32h-1zM456 249h3v2h-3zM465 233h1v54h-1zM464 238h3v44h-3zM473 243h1v19h-1zM472 246h3v14h-3zM490 162h1v35h-1zM489 163h3v29h-3zM498 141h1v55h-1zM497 158h3v20h-3zM507 159h1v34h-1zM506 164h3v25h-3zM511 178h1v32h-1zM510 188h3v14h-3zM536 142h1v46h-1zM535 167h3v13h-3zM552 117h1v55h-1zM551 130h3v39h-3zM557 158h1v22h-1zM556 168h3v10h-3zM561 166h1v16h-1zM560 177h3v3h-3zM565 179h1v66h-1zM564 180h3v43h-3zM569 218h1v35h-1zM568 221h3v18h-3zM573 228h1v25h-1zM572 239h3v1h-3zM577 238h1v42h-1zM576 239h3v34h-3zM586 253h1v14h-1zM585 253h3v8h-3zM598 229h1v22h-1zM597 232h3v1h-3zM615 154h1v41h-1zM614 155h3v31h-3zM627 169h1v42h-1zM626 171h3v36h-3zM636 178h1v43h-1zM635 197h3v5h-3zM640 167h1v193h-1zM639 202h3v108h-3zM644 266h1v101h-1zM643 309h3v23h-3zM656 255h1v64h-1zM655 256h3v15h-3zM661 258h1v45h-1zM660 270h3v26h-3zM665 283h1v46h-1zM664 295h3v29h-3zM669 314h1v109h-1zM668 323h3v58h-3zM673 357h1v35h-1zM672 380h3v3h-3zM690 354h1v38h-1zM689 362h3v13h-3zM710 202h1v55h-1zM709 235h3v7h-3zM719 223h1v32h-1zM718 238h3v7h-3zM723 208h1v79h-1zM722 242h3v23h-3zM727 221h1v57h-1zM726 264h3v11h-3zM735 240h1v54h-1zM734 243h3v29h-3zM740 271h1v72h-1zM739 271h3v51h-3zM744 310h1v85h-1zM743 321h3v43h-3zM752 347h1v42h-1zM751 349h3v27h-3zM760 306h1v48h-1zM759 311h3v28h-3zM773 278h1v47h-1zM772 303h3v20h-3zM785 302h1v68h-1zM784 316h3v49h-3zM794 324h1v51h-1zM793 327h3v32h-3zM806 290h1v88h-1zM805 293h3v61h-3zM810 310h1v63h-1zM809 353h3v10h-3zM823 236h1v36h-1zM822 239h3v29h-3zM831 250h1v53h-1zM830 251h3v37h-3zM839 248h1v31h-1zM838 260h3v19h-3zM848 252h1v51h-1zM847 252h3v44h-3zM856 259h1v58h-1zM855 265h3v28h-3zM868 169h1v55h-1zM867 185h3v26h-3zM873 196h1v43h-1zM872 210h3v26h-3zM885 161h1v47h-1zM884 172h3v32h-3zM893 187h1v49h-1zM892 194h3v15h-3zM906 191h1v29h-1zM905 199h3v4h-3zM910 193h1v50h-1zM909 202h3v36h-3zM914 212h1v89h-1zM913 237h3v40h-3zM935 127h1v61h-1zM934 129h3v54h-3zM939 165h1v42h-1zM938 182h3v3h-3zM943 171h1v44h-1zM942 183h3v3h-3zM947 179h1v38h-1zM946 185h3v31h-3zM952 200h1v29h-1zM951 214h3v7h-3zM968 108h1v44h-1zM967 131h3v3h-3zM972 125h1v55h-1zM971 133h3v39h-3zM977 156h1v26h-1zM976 171h3v6h-3zM985 159h1v32h-1zM984 170h3v11h-3zM997 68h1v44h-1zM996 81h3v25h-3zM1006 75h1v55h-1zM1005 96h3v12h-3zM1010 107h1v26h-1zM1009 107h3v16h-3zM1031 70h1v78h-1zM1030 90h3v45h-3zM1035 126h1v35h-1zM1034 134h3v8h-3zM1039 138h1v42h-1zM1038 142h3v32h-3zM1043 120h1v90h-1zM1042 173h3v12h-3zM1051 165h1v22h-1zM1050 170h3v11h-3zM1056 166h1v23h-1zM1055 180h3v3h-3zM1060 179h1v50h-1zM1059 182h3v13h-3zM1064 190h1v37h-1zM1063 195h3v19h-3zM1076 167h1v24h-1zM1075 171h3v5h-3zM1081 172h1v12h-1zM1080 176h3v5h-3zM1085 176h1v52h-1zM1084 180h3v35h-3zM1097 166h1v20h-1zM1096 169h3v16h-3zM1101 182h1v71h-1zM1100 183h3v61h-3zM1105 234h1v44h-1zM1104 243h3v3h-3zM1110 243h1v141h-1zM1109 245h3v75h-3zM1122 263h1v52h-1zM1121 267h3v21h-3zM1130 262h1v146h-1zM1129 278h3v129h-3zM1151 276h1v36h-1zM1150 278h3v14h-3zM1155 286h1v33h-1zM1154 292h3v13h-3zM1160 297h1v44h-1zM1159 305h3v22h-3z" fill="#ef5350"/>
</g>
<g clip-path="url(#cm)">
<path d="M901.9 56.4H1278" stroke="#0000ff" stroke-width="3.5" stroke-dasharray="15.2 17.8" fill="none"/>
<path d="M586 119.4H1278" stroke="#0000ff" stroke-width="3.5" stroke-dasharray="15.2 17.8" fill="none"/>
<path d="M618.9 423.4H1278" stroke="#0000ff" stroke-width="3.5" stroke-dasharray="15.2 17.8" fill="none"/>
<path d="M10 277.5H1278" stroke="#26a69a" stroke-width="1" stroke-dasharray="1 2" fill="none"/>
</g>
<g clip-path="url(#cr)">
<path d="M10.2 671.9L12.2 671.9L14.2 671.9L16.2 671.9L18.2 671.9L20.2 671.9L22.2 672.7L24.2 673.4L26.2 674.1L28.2 674.8L30.2 675.4L32.2 675.0L34.2 674.6L36.2 674.2L38.2 673.8L40.2 673.5L42.2 673.9L44.2 674.3L46.2 674.7L48.2 675.1L50.2 675.5L52.2 675.9L54.2 676.4L56.2 677.3L58.2 678.3L60.2 679.2L62.2 680.1L64.2 681.1L66.2 681.9L68.2 682.5L70.2 683.1L72.2 683.7L74.2 684.3L76.2 684.9L78.2 685.6L80.2 686.2L82.2 686.9L84.2 687.6L86.2 688.3L88.2 688.9L90.2 689.5L92.2 690.1L94.2 690.7L96.2 691.3L98.2 692.0L100.2 692.9L102.2 693.8L104.2 694.7L106.2 695.9L108.2 698.0L110.2 700.2L112.2 702.3L114.2 704.3L116.2 706.3L118.2 707.9L120.2 708.6L122.2 709.3L124.2 709.6L126.2 709.1L128.2 708.6L130.2 708.1L132.2 707.7L134.2 707.6L136.2 707.5L138.2 707.4L140.2 706.9L142.2 705.5L144.2 704.1L146.2 702.7L148.2 701.3L150.2 699.8L152.2 698.3L154.2 696.8L156.2 695.1L158.2 693.1L160.2 691.1L162.2 689.1L164.2 686.9L166.2 684.3L168.2 681.6L170.2 679.1L172.2 677.0L174.2 674.8L176.2 673.3L178.2 672.8L180.2 672.3L182.2 671.8L184.2 671.7L186.2 672.4L188.2 673.1L190.2 673.8L192.2 674.0L194.2 673.3L196.2 672.6L198.2 671.9L200.2 671.3L202.2 670.9L204.2 670.5L206.2 670.1L208.2 669.8L210.2 669.7L212.2 669.7L214.2 669.6L216.2 669.5L218.2 669.6L220.2 670.0L222.2 670.3L224.2 670.7L226.2 671.3L228.2 672.3L230.2 673.3L232.2 674.3L234.2 674.9L236.2 675.1L238.2 675.3L240.2 675.5L242.2 675.7L244.2 675.6L246.2 675.1L248.2 674.7L250.2 674.2L252.2 673.7L254.2 673.4L256.2 673.3L258.2 673.2L260.2 673.0L262.2 672.9L264.2 673.3L266.2 674.3L268.2 675.3L270.2 676.2L272.2 677.4L274.2 678.7L276.2 680.0L278.2 681.5L280.2 682.4L282.2 683.2L284.2 684.1L286.2 684.8L288.2 684.3L290.2 683.8L292.2 683.3L294.2 682.7L296.2 682.0L298.2 681.2L300.2 680.5L302.2 679.9L304.2 680.7L306.2 681.4L308.2 682.2L310.2 683.0L312.2 684.0L314.2 685.0L316.2 686.0L318.2 686.6L320.2 685.6L322.2 684.6L324.2 683.6L326.2 682.5L328.2 681.0L330.2 679.5L332.2 678.0L334.2 676.6L336.2 675.3L338.2 674.0L340.2 672.7L342.2 671.5L344.2 670.7L346.2 671.7L348.2 672.7L350.2 673.8L352.2 675.5L354.2 677.2L356.2 678.9L358.2 680.3L360.2 680.5L362.2 680.8L364.2 681.0L366.2 681.1L368.2 680.7L370.2 680.3L372.2 679.9L374.2 679.5L376.2 679.7L378.2 681.3L380.2 683.0L382.2 684.6L384.2 686.2L386.2 687.5L388.2 688.8L390.2 689.8L392.2 689.8L394.2 689.8L396.2 689.8L398.2 689.8L400.2 690.0L402.2 690.1L404.2 689.9L406.2 688.9L408.2 687.9L410.2 686.9L412.2 686.3L414.2 686.7L416.2 687.1L418.2 687.5L420.2 688.2L422.2 689.5L424.2 690.7L426.2 692.0L428.2 693.2L430.2 694.6L432.2 695.9L434.2 696.8L436.2 696.8L438.2 696.8L440.2 696.8L442.2 697.3L444.2 698.8L446.2 700.3L448.2 701.8L450.2 703.6L452.2 705.8L454.2 708.1L456.2 710.3L458.2 712.4L460.2 714.1L462.2 715.9L464.2 717.6L466.2 719.2L468.2 720.6L470.2 721.9L472.2 723.0L474.2 723.6L476.2 724.3L478.2 724.2L480.2 722.8L482.2 721.5L484.2 720.2L486.2 718.8L488.2 717.5L490.2 716.7L492.2 716.5L494.2 716.4L496.2 716.2L498.2 715.9L500.2 715.3L502.2 714.7L504.2 713.9L506.2 712.9L508.2 711.9L510.2 710.9L512.2 710.0L514.2 709.1L516.2 708.2L518.2 707.0L520.2 705.3L522.2 703.6L524.2 702.3L526.2 701.3L528.2 700.3L530.2 699.0L532.2 698.0L534.2 697.0L536.2 696.0L538.2 695.6L540.2 694.9L542.2 694.4L544.2 693.9L546.2 693.4L548.2 693.0L550.2 693.2L552.2 693.9L554.2 694.5L556.2 695.2L558.2 696.0L560.2 697.2L562.2 698.5L564.2 699.7L566.2 701.0L568.2 702.8L570.2 704.5L572.2 706.3L574.2 708.1L576.2 710.4L578.2 712.6L580.2 714.9L582.2 717.1L584.2 719.1L586.2 721.1L588.2 723.1L590.2 725.0L592.2 726.5L594.2 728.0L596.2 729.5L598.2 730.8L600.2 731.5L602.2 732.1L604.2 732.8L606.2 733.5L608.2 733.2L610.2 732.5L612.2 731.8L614.2 731.2L616.2 730.6L618.2 730.1L620.2 729.3L622.2 727.8L624.2 726.3L626.2 724.8L628.2 723.4L630.2 722.0L632.2 720.7L634.2 719.4L636.2 718.0L638.2 718.4L640.2 719.2L642.2 720.1L644.2 720.7L646.2 720.8L648.2 720.9L650.2 721.0L652.2 721.3L654.2 722.2L656.2 723.1L658.2 724.4L660.2 726.9L662.2 729.4L664.2 731.9L666.2 734.6L668.2 737.9L670.2 741.1L672.2 744.4L674.2 747.6L676.2 750.9L678.2 754.1L680.2 757.4L682.2 760.3L684.2 762.6L686.2 764.8L688.2 767.1L690.2 769.2L692.2 771.0L694.2 772.9L696.2 771.6L698.2 769.8L700.2 767.8L702.2 765.5L704.2 763.3L706.2 761.0L708.2 758.9L710.2 756.9L712.2 754.9L714.2 752.9L716.2 750.7L718.2 748.2L720.2 745.7L722.2 743.2L724.2 740.4L726.2 737.0L728.2 733.7L730.2 730.8L732.2 728.4L734.2 726.1L736.2 724.4L738.2 723.6L740.2 722.8L742.2 722.0L744.2 721.4L746.2 720.7L748.2 720.1L750.2 719.6L752.2 719.4L754.2 719.1L756.2 718.9L758.2 719.2L760.2 720.2L762.2 721.2L764.2 722.2L766.2 723.4L768.2 724.9L770.2 726.4L772.2 727.9L774.2 729.1L776.2 730.1L778.2 731.1L780.2 732.1L782.2 733.3L784.2 734.5L786.2 735.8L788.2 737.0L790.2 737.9L792.2 738.5L794.2 739.2L796.2 739.4L798.2 738.3L800.2 737.0L802.2 735.8L804.2 734.5L806.2 733.5L808.2 732.4L810.2 731.3L812.2 730.2L814.2 729.1L816.2 727.8L818.2 726.5L820.2 725.1L822.2 723.8L824.2 722.6L826.2 721.6L828.2 720.6L830.2 719.6L832.2 718.6L834.2 717.6L836.2 716.5L838.2 715.3L840.2 714.1L842.2 712.9L844.2 711.7L846.2 710.6L848.2 709.8L850.2 709.0L852.2 708.2L854.2 707.4L856.2 706.5L858.2 705.0L860.2 703.5L862.2 702.0L864.2 700.6L866.2 699.6L868.2 698.6L870.2 697.8L872.2 697.7L874.2 697.6L876.2 697.5L878.2 697.3L880.2 696.9L882.2 696.5L884.2 696.1L886.2 695.7L888.2 695.3L890.2 695.0L892.2 694.7L894.2 694.3L896.2 694.0L898.2 693.7L900.2 693.4L902.2 693.1L904.2 692.7L906.2 692.4L908.2 692.4L910.2 693.0L912.2 693.7L914.2 694.3L916.2 695.1L918.2 696.3L920.2 697.5L922.2 698.7L924.2 699.9L926.2 700.5L928.2 699.7L930.2 698.9L932.2 698.5L934.2 699.0L936.2 699.4L938.2 699.9L940.2 700.3L942.2 700.7L944.2 701.1L946.2 701.5L948.2 701.9L950.2 702.4L952.2 702.9L954.2 703.4L956.2 703.6L958.2 703.3L960.2 703.0L962.2 702.3L964.2 701.1L966.2 699.8L968.2 698.6L970.2 697.4L972.2 696.4L974.2 695.4L976.2 694.4L978.2 693.6L980.2 693.2L982.2 692.7L984.2 692.2L986.2 692.2L988.2 692.3L990.2 692.4L992.2 692.0L994.2 691.1L996.2 690.2L998.2 689.3L1000.2 688.4L1002.2 687.5L1004.2 686.6L1006.2 685.7L1008.2 684.7L1010.2 684.1L1012.2 683.7L1014.2 683.3L1016.2 683.0L1018.2 682.6L1020.2 682.4L1022.2 682.4L1024.2 682.4L1026.2 682.4L1028.2 682.4L1030.2 682.7L1032.2 683.3L1034.2 683.9L1036.2 684.5L1038.2 685.5L1040.2 687.2L1042.2 688.7L1044.2 690.1L1046.2 691.8L1048.2 694.1L1050.2 696.4L1052.2 698.8L1054.2 701.1L1056.2 703.6L1058.2 706.2L1060.2 708.8L1062.2 711.8L1064.2 714.8L1066.2 717.0L1068.2 718.6L1070.2 720.2L1072.2 721.8L1074.2 723.4L1076.2 724.9L1078.2 726.3L1080.2 727.8L1082.2 729.6L1084.2 732.1L1086.2 734.5L1088.2 736.9L1090.2 736.8L1092.2 736.6L1094.2 736.5L1096.2 736.5L1098.2 737.5L1100.2 738.5L1102.2 739.5L1104.2 740.7L1106.2 742.4L1108.2 744.2L1110.2 745.9L1112.2 747.6L1114.2 749.3L1116.2 749.7L1118.2 750.1L1120.2 750.5L1122.2 750.9L1124.2 751.3L1126.2 752.9L1128.2 755.0L1130.2 757.2L1132.2 758.0L1134.2 758.5L1136.2 759.0L1138.2 759.5L1140.2 759.3L1142.2 759.0L1144.2 758.8L1146.2 758.6L1148.2 759.2L1150.2 759.8L1152.2 760.4L1154.2 761.0L1156.2 761.4L1158.2 761.1L1160.2 760.9L1162.2 759.5L1164.5 758.8" stroke="#fdd835" stroke-width="1.15" fill="none" stroke-linejoin="round"/>
<path d="M12.2 669.5L16.4 668.9L20.5 681.8L24.7 691.8L28.8 692.2L33.0 698.2L37.2 679.8L41.3 702.8L45.5 701.2L49.6 681.8L53.8 645.5L58.0 674.2L62.1 681.2L66.3 680.4L70.4 691.8L74.6 692.8L78.8 680.2L82.9 703.8L87.1 721.3L91.2 699.2L95.4 715.3L99.6 715.3L103.7 719.7L107.9 720.7L112.0 743.6L116.2 723.7L120.4 704.2L124.5 701.8L128.7 680.8L132.8 666.3L137.0 681.8L141.2 692.2L145.3 662.9L149.5 692.2L153.6 661.9L157.8 658.9L162.0 660.3L166.1 664.9L170.3 633.0L174.4 669.9L178.6 679.8L182.8 695.4L186.9 687.4L191.1 699.4L195.2 670.9L199.4 664.3L203.6 652.3L207.7 672.3L211.9 660.9L216.0 659.5L220.2 668.9L224.4 658.5L228.5 679.8L232.7 698.8L236.8 692.8L241.0 689.8L245.2 683.8L249.3 677.8L253.5 663.5L257.6 658.5L261.8 645.5L266.0 689.8L270.1 688.2L274.3 692.8L278.4 704.8L282.6 703.4L286.8 701.4L290.9 680.2L295.1 681.8L299.2 641.5L303.4 686.2L307.6 681.8L311.7 703.8L315.9 702.8L320.0 655.9L324.2 653.9L328.4 631.0L332.5 657.9L336.7 669.5L340.8 648.9L345.0 681.8L349.2 710.7L353.3 727.7L357.5 705.8L361.6 681.8L365.8 703.4L370.0 691.8L374.1 681.8L378.3 678.8L382.4 698.4L386.6 694.8L390.8 686.8L394.9 658.9L399.1 661.9L403.2 686.8L407.4 687.8L411.6 693.8L415.7 700.8L419.9 717.7L424.0 736.3L428.2 722.7L432.4 728.7L436.5 685.8L440.7 693.8L444.8 702.8L449.0 740.6L453.2 733.7L457.3 733.3L461.5 725.7L465.6 750.2L469.8 726.7L474.0 734.1L478.1 733.3L482.3 692.8L486.4 679.8L490.6 697.4L494.8 681.8L498.9 692.8L503.1 687.8L507.2 702.8L511.4 711.3L515.6 710.3L519.7 695.8L523.9 693.8L528.0 693.4L532.2 690.4L536.4 700.8L540.5 693.8L544.7 673.8L548.8 666.9L553.0 702.8L557.2 709.7L561.3 712.1L565.5 745.6L569.6 755.6L573.8 756.6L578.0 776.1L582.1 758.0L586.3 762.6L590.4 742.6L594.6 735.7L598.8 736.1L602.9 691.8L607.1 690.2L611.2 673.8L615.4 702.8L619.6 696.4L623.7 691.2L627.9 721.3L632.0 714.1L636.2 717.7L640.4 784.5L644.5 793.5L648.7 742.6L652.8 738.1L657.0 746.0L661.2 757.6L665.3 770.6L669.5 793.5L673.6 793.9L677.8 787.5L682.0 780.5L686.1 777.9L690.3 783.5L694.4 772.6L698.6 741.0L702.8 734.1L706.9 681.8L711.1 686.2L715.2 684.4L719.4 686.8L723.6 705.2L727.7 713.3L731.9 692.2L736.0 718.1L740.2 745.6L744.4 766.6L748.5 755.6L752.7 768.6L756.8 725.3L761.0 739.1L765.2 731.7L769.3 717.7L773.5 728.3L777.6 726.1L781.8 724.7L786.0 753.2L790.1 727.1L794.3 744.6L798.4 736.1L802.6 704.2L806.8 736.7L810.9 741.2L815.1 696.8L819.2 681.4L823.4 696.8L827.6 690.2L831.7 708.7L835.9 696.8L840.0 706.7L844.2 694.2L848.4 717.7L852.5 702.8L856.7 717.7L860.8 698.8L865.0 670.9L869.2 684.8L873.3 698.2L877.5 682.8L881.6 673.4L885.8 690.8L890.0 686.8L894.1 697.8L898.3 696.8L902.4 690.8L906.6 692.8L910.8 714.7L914.9 734.7L919.1 724.7L923.2 724.3L927.4 704.2L931.6 660.9L935.7 692.4L939.9 693.4L944.0 694.2L948.2 711.7L952.4 715.1L956.5 696.8L960.7 691.4L964.8 669.9L969.0 670.9L973.2 697.4L977.3 700.8L981.5 697.4L985.6 704.4L989.8 686.8L994.0 653.3L998.1 671.5L1002.3 667.9L1006.4 675.8L1010.6 686.8L1014.8 684.8L1018.9 681.8L1023.1 673.4L1027.2 668.5L1031.4 705.8L1035.6 712.7L1039.7 734.7L1043.9 741.2L1048.0 730.3L1052.2 736.7L1056.4 739.3L1060.5 747.9L1064.7 760.5L1068.8 740.2L1073.0 720.9L1077.2 725.8L1081.3 729.6L1085.5 755.3L1089.6 745.0L1093.8 713.8L1098.0 725.8L1102.1 765.3L1106.3 766.2L1110.4 800.4L1114.6 787.4L1118.8 757.6L1122.9 766.2L1127.1 761.0L1131.2 808.6L1135.4 743.7L1139.6 741.8L1143.7 739.8L1147.9 734.8L1152.0 742.1L1156.2 749.9L1160.4 756.6L1164.5 727.7" stroke="#7e57c2" stroke-width="3" fill="none" stroke-linejoin="round" stroke-linecap="round"/>
</g>
<path d="M1173.92 604.32A9.8 9.8 0 1 1 1167.63 598.03" fill="none" stroke="#9124ab" stroke-width="1.5" stroke-linecap="round"/>
<path d="M1166.97 602.26L1160.23 607.66H1163.89L1161.19 612.82L1168.59 607.27H1165.05Z" fill="#9124ab" stroke="#9124ab" stroke-width="0.4" stroke-linejoin="round"/>
<circle cx="1171.4" cy="600.6" r="2.6" fill="#f23645"/>
<text x="18" y="46" font-size="12" fill="#131722" textLength="206" lengthAdjust="spacingAndGlyphs">Bitcoin Cash / TetherUS · 1D · Binance</text>
<text x="232" y="46" font-size="12" fill="#131722" textLength="8" lengthAdjust="spacingAndGlyphs">O</text>
<text x="240" y="46" font-size="12" fill="#26a69a" textLength="29" lengthAdjust="spacingAndGlyphs">503.0</text>
<text x="277" y="46" font-size="12" fill="#131722" textLength="7.3" lengthAdjust="spacingAndGlyphs">H</text>
<text x="284.3" y="46" font-size="12" fill="#26a69a" textLength="29.6" lengthAdjust="spacingAndGlyphs">535.9</text>
<text x="322" y="46" font-size="12" fill="#131722" textLength="5.4" lengthAdjust="spacingAndGlyphs">L</text>
<text x="327.4" y="46" font-size="12" fill="#26a69a" textLength="29.3" lengthAdjust="spacingAndGlyphs">499.9</text>
<text x="364.6" y="46" font-size="12" fill="#131722" textLength="7" lengthAdjust="spacingAndGlyphs">C</text>
<text x="371.7" y="46" font-size="12" fill="#26a69a" textLength="29" lengthAdjust="spacingAndGlyphs">533.4</text>
<text x="409.2" y="46" font-size="12" fill="#26a69a" textLength="77" lengthAdjust="spacingAndGlyphs">+30.4 (+6.04%)</text>
<text x="18" y="63" font-size="12" fill="#131722" textLength="81" lengthAdjust="spacingAndGlyphs">EMA (20, close)</text>
<text x="107" y="63" font-size="12" fill="#2962ff" textLength="30" lengthAdjust="spacingAndGlyphs">536.4</text>
<text x="18" y="80" font-size="12" fill="#131722" textLength="81" lengthAdjust="spacingAndGlyphs">SMA (50, close)</text>
<text x="107" y="80" font-size="12" fill="#f23645" textLength="29" lengthAdjust="spacingAndGlyphs">581.2</text>
<text x="18" y="640.5" font-size="12" fill="#131722" textLength="75.7" lengthAdjust="spacingAndGlyphs">RSI (14, close)</text>
<text x="101.7" y="640.5" font-size="12" fill="#7e57c2" textLength="29" lengthAdjust="spacingAndGlyphs">47.56</text>
<text x="138.6" y="640.5" font-size="12" fill="#fdd835" textLength="29" lengthAdjust="spacingAndGlyphs">39.97</text>
<text x="1287.2" y="594.5" font-size="12" fill="#131722" textLength="29.4" lengthAdjust="spacingAndGlyphs">340.0</text>
<text x="1287.2" y="561.5" font-size="12" fill="#131722" textLength="29.4" lengthAdjust="spacingAndGlyphs">360.0</text>
<text x="1287.2" y="529.5" font-size="12" fill="#131722" textLength="29.4" lengthAdjust="spacingAndGlyphs">380.0</text>
<text x="1287.2" y="497.5" font-size="12" fill="#131722" textLength="29.4" lengthAdjust="spacingAndGlyphs">400.0</text>
<text x="1287.2" y="464.5" font-size="12" fill="#131722" textLength="29.4" lengthAdjust="spacingAndGlyphs">420.0</text>
<text x="1287.2" y="400.5" font-size="12" fill="#131722" textLength="29.4" lengthAdjust="spacingAndGlyphs">460.0</text>
<text x="1287.2" y="367.5" font-size="12" fill="#131722" textLength="29.4" lengthAdjust="spacingAndGlyphs">480.0</text>
<text x="1287.2" y="335.5" font-size="12" fill="#131722" textLength="29.4" lengthAdjust="spacingAndGlyphs">500.0</text>
<text x="1287.2" y="238.5" font-size="12" fill="#131722" textLength="29.4" lengthAdjust="spacingAndGlyphs">560.0</text>
<text x="1287.2" y="206.5" font-size="12" fill="#131722" textLength="29.4" lengthAdjust="spacingAndGlyphs">580.0</text>
<text x="1287.2" y="173.5" font-size="12" fill="#131722" textLength="29.4" lengthAdjust="spacingAndGlyphs">600.0</text>
<text x="1287.2" y="141.5" font-size="12" fill="#131722" textLength="29.4" lengthAdjust="spacingAndGlyphs">620.0</text>
<text x="1287.2" y="109.5" font-size="12" fill="#131722" textLength="29.4" lengthAdjust="spacingAndGlyphs">640.0</text>
<text x="1287.2" y="76.5" font-size="12" fill="#131722" textLength="29.4" lengthAdjust="spacingAndGlyphs">660.0</text>
<text x="1287.2" y="640.8" font-size="12" fill="#131722" textLength="29.6" lengthAdjust="spacingAndGlyphs">70.00</text>
<text x="1287.2" y="681.5" font-size="12" fill="#131722" textLength="29.6" lengthAdjust="spacingAndGlyphs">60.00</text>
<text x="1287.2" y="722.3" font-size="12" fill="#131722" textLength="29.6" lengthAdjust="spacingAndGlyphs">50.00</text>
<text x="1287.2" y="803.8" font-size="12" fill="#131722" textLength="29.6" lengthAdjust="spacingAndGlyphs">30.00</text>
<text x="95.5" y="838" font-size="12" fill="#131722" text-anchor="middle">Jun</text>
<text x="220.5" y="838" font-size="12" fill="#131722" text-anchor="middle">Jul</text>
<text x="349.5" y="838" font-size="12" fill="#131722" text-anchor="middle">Aug</text>
<text x="478.5" y="838" font-size="12" fill="#131722" text-anchor="middle">Sep</text>
<text x="602.5" y="838" font-size="12" fill="#131722" text-anchor="middle">Oct</text>
<text x="731.5" y="838" font-size="12" fill="#131722" text-anchor="middle">Nov</text>
<text x="856.5" y="838" font-size="12" fill="#131722" text-anchor="middle">Dec</text>
<text x="985.5" y="838" font-size="12" fill="#131722" text-anchor="middle">2026</text>
<text x="1114.5" y="838" font-size="12" fill="#131722" text-anchor="middle">Feb</text>
<text x="1230.5" y="838" font-size="12" fill="#131722" text-anchor="middle">Mar</text>
<path d="M1279.0 48.1H1319.5Q1322.0 48.1 1322.0 50.6V62.4Q1322.0 64.9 1319.5 64.9H1279.0Z" fill="#0000ff"/>
<rect x="1279" y="28" width="64" height="32.6" fill="#fff"/>
<rect x="1282" y="30.5" width="58" height="27" rx="5" fill="#fff" stroke="#ebecef"/>
<text x="1291.4" y="48.6" font-size="12" fill="#131722" textLength="26.0" lengthAdjust="spacingAndGlyphs">USDT</text>
<path d="M1279.0 111.0H1319.5Q1322.0 111.0 1322.0 113.5V125.3Q1322.0 127.8 1319.5 127.8H1279.0Z" fill="#0000ff"/>
<text x="1287.2" y="123.5" font-size="12" fill="#fff" font-weight="bold" textLength="29.4" lengthAdjust="spacingAndGlyphs">631.0</text>
<path d="M1279.0 415.1H1319.5Q1322.0 415.1 1322.0 417.6V429.4Q1322.0 431.9 1319.5 431.9H1279.0Z" fill="#0000ff"/>
<text x="1287.2" y="427.6" font-size="12" fill="#fff" font-weight="bold" textLength="29.4" lengthAdjust="spacingAndGlyphs">443.0</text>
<path d="M1230.5 192.0H1278.0V208.8H1230.5Q1228.0 208.8 1228.0 206.3V194.5Q1228.0 192.0 1230.5 192.0Z" fill="#f23645"/>
<text x="1232.7" y="204.5" font-size="12" fill="#fff" font-weight="bold" textLength="41.5" lengthAdjust="spacingAndGlyphs">SMA:MA</text>
<path d="M1279.0 192.0H1319.5Q1322.0 192.0 1322.0 194.5V206.3Q1322.0 208.8 1319.5 208.8H1279.0Z" fill="#f23645"/>
<text x="1287.2" y="204.5" font-size="12" fill="#fff" font-weight="bold" textLength="29.4" lengthAdjust="spacingAndGlyphs">581.2</text>
<path d="M1249.7 252.0H1278.0V268.8H1249.7Q1247.2 268.8 1247.2 266.3V254.5Q1247.2 252.0 1249.7 252.0Z" fill="#2962ff"/>
<text x="1252.1" y="264.6" font-size="12" fill="#fff" font-weight="bold" textLength="22.1" lengthAdjust="spacingAndGlyphs">EMA</text>
<path d="M1279.0 252.0H1319.5Q1322.0 252.0 1322.0 254.5V266.3Q1322.0 268.8 1319.5 268.8H1279.0Z" fill="#2962ff"/>
<text x="1287.2" y="264.6" font-size="12" fill="#fff" font-weight="bold" textLength="29.4" lengthAdjust="spacingAndGlyphs">536.4</text>
<path d="M1222.5 269.3H1278.0V285.8H1222.5Q1220.0 285.8 1220.0 283.3V271.8Q1220.0 269.3 1222.5 269.3Z" fill="#26a69a"/>
<text x="1224.4" y="281.6" font-size="12" fill="#fff" font-weight="bold" textLength="48.0" lengthAdjust="spacingAndGlyphs">BCHUSDT</text>
<path d="M1279.0 269.3H1336.5Q1339.0 269.3 1339.0 271.8V311.1Q1339.0 313.6 1336.5 313.6H1279.0Z" fill="#26a69a"/>
<text x="1287.2" y="281.6" font-size="12" fill="#fff" font-weight="bold" textLength="29.4" lengthAdjust="spacingAndGlyphs">533.4</text>
<text x="1287.2" y="295.8" font-size="12" fill="#fff" font-weight="bold" textLength="42.5" lengthAdjust="spacingAndGlyphs">+30.61%</text>
<text x="1287.2" y="309.1" font-size="12" fill="#c9e9e6" font-weight="bold" textLength="46.2" lengthAdjust="spacingAndGlyphs">09:01:52</text>
<path d="M1255.5 719.0H1278.0V735.8H1255.5Q1253.0 735.8 1253.0 733.3V721.5Q1253.0 719.0 1255.5 719.0Z" fill="#7e57c2"/>
<text x="1258.2" y="731.5" font-size="12" fill="#fff" font-weight="bold" textLength="15.7" lengthAdjust="spacingAndGlyphs">RSI</text>
<path d="M1279.0 719.0H1319.5Q1322.0 719.0 1322.0 721.5V733.3Q1322.0 735.8 1319.5 735.8H1279.0Z" fill="#7e57c2"/>
<text x="1287.2" y="731.5" font-size="12" fill="#fff" font-weight="bold" textLength="29.4" lengthAdjust="spacingAndGlyphs">47.56</text>
<path d="M1201.5 750.1H1278.0V766.9H1201.5Q1199.0 766.9 1199.0 764.4V752.6Q1199.0 750.1 1201.5 750.1Z" fill="#fdd835"/>
<text x="1203.5" y="762.6" font-size="12" fill="#131722" textLength="70.4" lengthAdjust="spacingAndGlyphs">RSI-based MA</text>
<path d="M1279.0 750.1H1319.5Q1322.0 750.1 1322.0 752.6V764.4Q1322.0 766.9 1319.5 766.9H1279.0Z" fill="#fdd835"/>
<text x="1287.2" y="762.6" font-size="12" fill="#131722" textLength="29.4" lengthAdjust="spacingAndGlyphs">39.97</text>
<g fill="#0e0e10"><path d="M11.9 870h11.7v14.9h-5.7V876.2H11.9z"/><circle cx="28.7" cy="873.2" r="2.85"/><path d="M33.5 870h8.2l-4.4 14.9h-8.3z"/></g>
<text x="49.5" y="884.9" font-size="21.5" font-weight="bold" fill="#0e0e10" textLength="120.4" lengthAdjust="spacingAndGlyphs">TradingView</text>
</svg></body></html>
